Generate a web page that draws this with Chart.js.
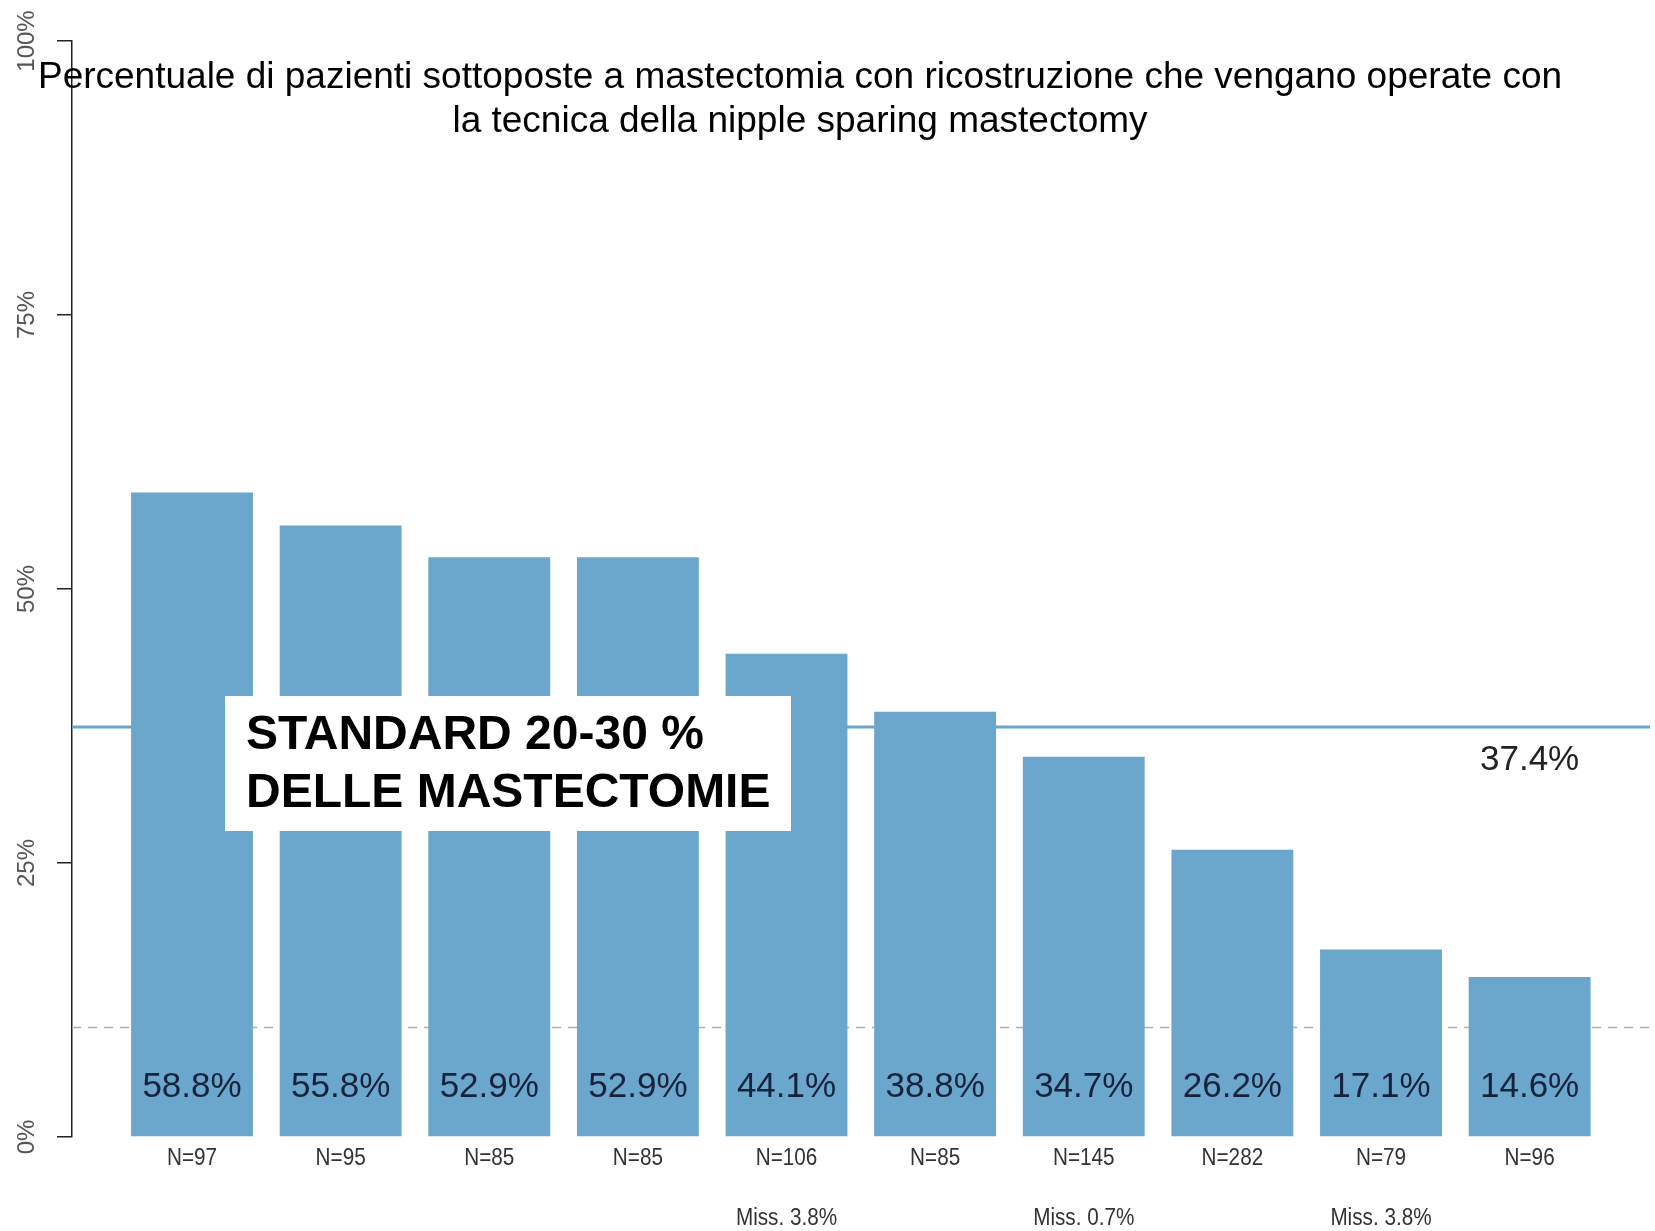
<!DOCTYPE html>
<html>
<head>
<meta charset="utf-8">
<script src="https://cdn.jsdelivr.net/npm/chart.js@4.4.0/dist/chart.umd.min.js"></script>
<style>
  html, body { margin: 0; padding: 0; background: #fff; }
  #wrap { width: 1655px; height: 1231px; }
</style>
</head>
<body>
<div id="wrap"><canvas id="barChart"></canvas></div>
<script>
// values
var categories = ['N=97', 'N=95', 'N=85', 'N=85', 'N=106', 'N=85', 'N=145', 'N=282', 'N=79', 'N=96'];
var missing = ['', '', '', '', 'Miss. 3.8%', '', 'Miss. 0.7%', '', 'Miss. 3.8%', ''];
var percentages = [58.8, 55.8, 52.9, 52.9, 44.1, 38.8, 34.7, 26.2, 17.1, 14.6];
var overallMean = 37.4;
var referenceLine = 10;
var yTicks = [0, 25, 50, 75, 100];
var titleLines = ['Percentuale di pazienti sottoposte a mastectomia con ricostruzione che vengano operate con',
                  'la tecnica della nipple sparing mastectomy'];
var boxLines = ['STANDARD 20-30 %', 'DELLE MASTECTOMIE'];

var barColor = '#6ba6cc';
var FONT = '"Liberation Sans", Arial, sans-serif';

var points = percentages.map(function (v, i) { return { x: i, y: v }; });

// lines behind the bars
var backLines = {
    id: 'backLines',
    beforeDatasetsDraw: function (chart) {
        var c = chart.ctx, a = chart.chartArea, y = chart.scales.y;
        c.save();
        c.strokeStyle = '#b0b0b0';
        c.lineWidth = 1.5;
        c.setLineDash([9, 7]);
        c.beginPath();
        c.moveTo(a.left, y.getPixelForValue(referenceLine));
        c.lineTo(a.right, y.getPixelForValue(referenceLine));
        c.stroke();
        c.setLineDash([]);
        c.strokeStyle = barColor;
        c.lineWidth = 3;
        c.beginPath();
        c.moveTo(a.left, y.getPixelForValue(overallMean));
        c.lineTo(a.right, y.getPixelForValue(overallMean));
        c.stroke();
        c.restore();
    }
};

var texts = {
    id: 'texts',
    afterDraw: function (chart) {
        var c = chart.ctx, a = chart.chartArea, x = chart.scales.x, y = chart.scales.y;
        c.save();
        c.textAlign = 'center';
        c.textBaseline = 'middle';

        // y tick labels, rotated
        c.fillStyle = '#555';
        c.font = '24px ' + FONT;
        yTicks.forEach(function (t) {
            c.save();
            c.translate(27, y.getPixelForValue(t));
            c.rotate(-Math.PI / 2);
            c.fillText(t + '%', 0, 0);
            c.restore();
        });

        // values inside bars
        c.fillStyle = '#17233d';
        c.font = '35px ' + FONT;
        percentages.forEach(function (v, i) {
            c.fillText(v.toFixed(1) + '%', x.getPixelForValue(i), a.bottom - 50);
        });

        // N and missing labels (a bit condensed)
        c.fillStyle = '#333';
        c.font = '23px ' + FONT;
        categories.forEach(function (n, i) {
            var px = x.getPixelForValue(i);
            c.save();
            c.translate(px, a.bottom + 22);
            c.scale(0.9, 1);
            c.fillText(n, 0, 0);
            c.restore();
            if (missing[i]) {
                c.save();
                c.translate(px, a.bottom + 82);
                c.scale(0.9, 1);
                c.fillText(missing[i], 0, 0);
                c.restore();
            }
        });

        // mean label
        c.fillStyle = '#222';
        c.font = '35px ' + FONT;
        c.fillText(overallMean.toFixed(1) + '%', x.getPixelForValue(9), y.getPixelForValue(overallMean) + 33);

        // title over the plot
        c.fillStyle = '#000';
        c.font = '37px ' + FONT;
        c.fillText(titleLines[0], 800, 78);
        c.fillText(titleLines[1], 800, 122);

        // standard box
        c.fillStyle = '#fff';
        c.fillRect(225, 696, 566, 135);
        c.fillStyle = '#000';
        c.textAlign = 'left';
        c.font = 'bold 48px ' + FONT;
        c.fillText(boxLines[0], 246, 736);
        c.fillText(boxLines[1], 246, 794);
        c.restore();
    }
};

var ctx = document.getElementById('barChart').getContext('2d');
var myChart = new Chart(ctx, {
    type: 'bar',
    data: {
        datasets: [{
            label: 'NSM',
            data: points,
            backgroundColor: barColor,
            borderWidth: 0,
            categoryPercentage: 1.0,
            barPercentage: 0.82
        }]
    },
    options: {
        responsive: true,
        maintainAspectRatio: false,
        animation: false,
        layout: { padding: { top: 41, bottom: 94, left: 0, right: 5 } },
        plugins: {
            legend: { display: false },
            tooltip: { enabled: false }
        },
        scales: {
            x: {
                type: 'linear',
                offset: false,
                min: -0.8075,
                max: 9.81,
                display: false,
                ticks: { stepSize: 1 },
                // keep only whole-number ticks so bar width follows the bar spacing
                afterBuildTicks: function (scale) {
                    scale.ticks = scale.ticks.filter(function (t) { return Number.isInteger(t.value); });
                }
            },
            y: {
                min: 0,
                max: 100,
                afterFit: function (scale) { scale.width = 72; },
                ticks: { display: false, stepSize: 25 },
                grid: {
                    drawOnChartArea: false,
                    drawTicks: true,
                    tickLength: 15,
                    color: '#222',
                    lineWidth: 1.5
                },
                border: { display: true, color: '#222', width: 1.5 }
            }
        }
    },
    plugins: [backLines, texts]
});
</script>
</body>
</html>
